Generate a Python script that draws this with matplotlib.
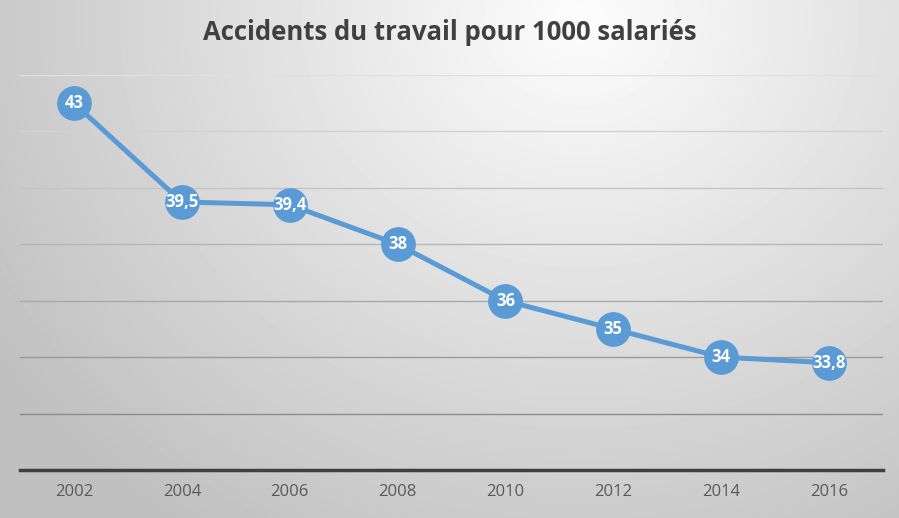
import numpy as np
import matplotlib.pyplot as plt

# data
years = ['2002', '2004', '2006', '2008', '2010', '2012', '2014', '2016']
accidents = [43, 39.5, 39.4, 38, 36, 35, 34, 33.8]
title = 'Accidents du travail pour 1000 salariés'

W, H = 899, 518
fig = plt.figure(figsize=(W / 100, H / 100), dpi=100)

# radial grey background, light near the top centre
bg = fig.add_axes([0, 0, 1, 1], zorder=0)
yy, xx = np.mgrid[0:H, 0:W]
d = np.sqrt(((xx - 580) / 700.0) ** 2 + ((yy - 20) / 620.0) ** 2)
shade = np.clip(0.99 - 0.24 * d, 0.75, 1.0)
bg.imshow(shade, cmap='gray', vmin=0, vmax=1, aspect='auto', extent=[0, 1, 0, 1])
bg.set_axis_off()

ax = fig.add_axes([20 / W, 1 - 470 / H, 863 / W, (470 - 75) / H], zorder=1)
ax.patch.set_alpha(0)

x = np.arange(len(years))
ax.set_xlim(-0.5, len(years) - 0.5)
ax.set_ylim(30, 44)
ticks = np.arange(32, 45, 2)
for t in ticks:
    f = (t - 32) / 12.0
    g = 0.55 + 0.33 * f
    ax.axhline(t, color=(g, g, g), lw=1.0, zorder=1)

ax.plot(x, accidents, color='#5b9bd5', lw=3.6, marker='o', ms=24,
        markerfacecolor='#5b9bd5', markeredgecolor='#5b9bd5', zorder=3)
for xi, v in zip(x, accidents):
    lab = ('%g' % v).replace('.', ',')
    ax.text(xi, v, lab, ha='center', va='center', color='white',
            fontsize=12, fontweight='bold', family='Open Sans', zorder=4)

for s in ['top', 'right', 'left']:
    ax.spines[s].set_visible(False)
ax.spines['bottom'].set_color('#404040')
ax.spines['bottom'].set_linewidth(2.5)
ax.set_yticks([])
ax.set_xticks(x)
ax.set_xticklabels(years, fontsize=12, color='#595959', family='Open Sans')
ax.tick_params(axis='x', length=0, pad=10)

fig.text(0.5, 1 - 33 / H, title, ha='center', va='center', fontsize=18.5,
         fontweight='bold', color='#404040', family='Open Sans')

fig.savefig('out.png', dpi=100)
